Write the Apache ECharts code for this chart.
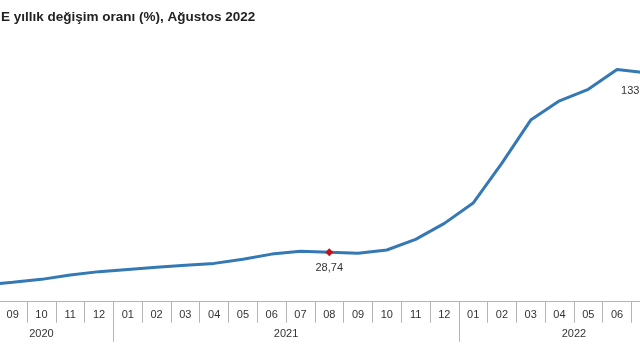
<!DOCTYPE html>
<html>
<head>
<meta charset="utf-8">
<script src="https://cdn.jsdelivr.net/npm/echarts@6/dist/echarts.min.js"></script>
<style>
html,body{margin:0;padding:0;width:640px;height:360px;overflow:hidden;background:#fff;}
#c{position:absolute;left:-40px;top:0;width:760px;height:360px;}
</style>
</head>
<body>
<div id="c"></div>
<script>
const titleText = 'E yıllık değişim oranı (%), Ağustos 2022';
const months = ['08','09','10','11','12',
  '01','02','03','04','05','06','07','08','09','10','11','12',
  '01','02','03','04','05','06','07','08'];
const years = ['2020','2021','2022'];
const yearMonthCounts = [5, 12, 8];
const values = [9.7, 11.3, 13.0, 15.5, 17.5,
  18.8, 20.0, 21.2, 22.3, 24.7, 27.7, 29.3, 28.74, 28.2, 30.1, 36.3, 45.6,
  57.4, 80.7, 105.7, 116.9, 123.6, 135.2, 133.33, 137.3];
const labeledIdx = [12, 23, 24];
const markedIdx = [12, 24];

const chart = echarts.init(document.getElementById('c'));
const n = months.length;
let yearCenters = [], yearBounds = [-0.5];
let acc = 0;
yearMonthCounts.forEach(c => { yearCenters.push(acc + c / 2 - 0.5); acc += c; yearBounds.push(acc - 0.5); });

const fmt = v => v.toFixed(2).replace('.', ',');
const data = values.map((v, i) => {
  const item = { value: v };
  if (markedIdx.includes(i)) {
    item.symbol = 'diamond'; item.symbolSize = 8;
    item.itemStyle = { color: '#c0141e' };
  } else {
    item.symbol = 'circle'; item.symbolSize = 1;
    item.itemStyle = { color: 'rgba(0,0,0,0)', borderWidth: 0 };
  }
  if (labeledIdx.includes(i)) {
    const marked = markedIdx.includes(i);
    item.label = { show: true, position: 'bottom', distance: marked ? 6 : 12,
      offset: marked ? [0, 0] : [-8, 0], formatter: () => fmt(v),
      color: '#333', fontSize: 11, fontFamily: 'Liberation Sans, Arial, sans-serif' };
  }
  return item;
});

chart.setOption({
  animation: false,
  title: { text: titleText, left: 36, top: 5,
    textStyle: { fontSize: 13.5, fontWeight: 'bold', color: '#222', fontFamily: 'Liberation Sans, Arial, sans-serif' } },
  grid: { left: 9.5, width: 719.5, top: 44, bottom: 58.3 },
  xAxis: [
    { type: 'category', data: months, boundaryGap: true, position: 'bottom',
      axisLine: { show: true, lineStyle: { color: '#b4b4b4', width: 1 } },
      axisTick: { show: true, interval: 0, length: 21, lineStyle: { color: '#b4b4b4' } },
      axisLabel: { interval: 0, margin: 8, color: '#333', fontSize: 11, fontFamily: 'Liberation Sans, Arial, sans-serif' } },
    { type: 'value', min: -0.5, max: n - 0.5, position: 'bottom', splitLine: { show: false },
      axisLine: { show: false },
      axisTick: { show: true, customValues: yearBounds, length: 40, lineStyle: { color: '#b4b4b4' } },
      axisLabel: { show: true, customValues: yearCenters, margin: 27,
        formatter: (v) => { const k = yearCenters.findIndex(c => Math.abs(c - v) < 0.01); return k >= 0 ? years[k] : ''; },
        color: '#333', fontSize: 11, fontFamily: 'Liberation Sans, Arial, sans-serif' } }
  ],
  yAxis: { type: 'value', min: 0, max: 150, show: false, splitLine: { show: false } },
  series: [{
    type: 'line', xAxisIndex: 0, data: data, smooth: false,
    lineStyle: { color: '#3478b4', width: 3 },
    itemStyle: { color: '#3478b4' },
    showAllSymbol: true
  }]
});
</script>
</body>
</html>
